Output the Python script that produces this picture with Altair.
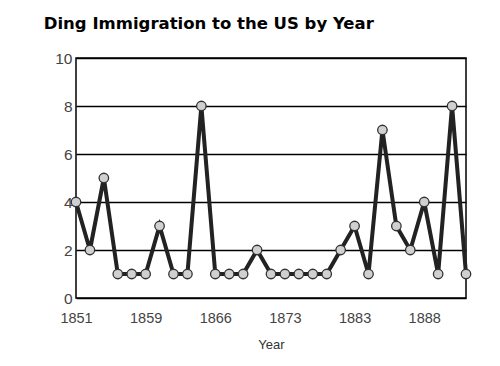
import altair as alt
import pandas as pd

years = [1851, 1852, 1853, 1855, 1857, 1859, 1860, 1861, 1863, 1865,
         1866, 1867, 1868, 1870, 1871, 1873, 1875, 1877, 1879, 1881,
         1883, 1884, 1885, 1886, 1887, 1888, 1889, 1890, 1892]
counts = [4, 2, 5, 1, 1, 1, 3, 1, 1, 8,
          1, 1, 1, 2, 1, 1, 1, 1, 1, 2,
          3, 1, 7, 3, 2, 4, 1, 8, 1]
tick_years = [1851, 1859, 1866, 1873, 1883, 1888]

df = pd.DataFrame({"Year": years, "Count": counts})

x = alt.X("Year:O", title="Year",
          scale=alt.Scale(type="point", padding=0),
          axis=alt.Axis(values=tick_years, labelAngle=0, ticks=False, domain=False,
                        labelFont="Liberation Sans", labelFontSize=14.5, labelColor="#444",
                        labelPadding=13, titleFont="Liberation Sans", titleFontSize=13,
                        titleFontWeight="normal", titleColor="#333", titlePadding=14))
y = alt.Y("Count:Q", title=None,
          scale=alt.Scale(domain=[0, 10], nice=False),
          axis=alt.Axis(values=[0, 2, 4, 6, 8, 10], grid=True, gridColor="#000",
                        gridWidth=1.3, gridOpacity=1, ticks=False, domain=False,
                        labelFont="Liberation Sans", labelFontSize=15.5, labelColor="#444",
                        labelPadding=4))

line = alt.Chart(df).mark_line(color="#222", strokeWidth=4).encode(x=x, y=y)
pts = alt.Chart(df).mark_point(filled=True, fill="#d0d0d0", stroke="#333",
                               strokeWidth=1.3, size=90, opacity=1).encode(x=x, y=y)

chart = (line + pts).properties(
    width=390, height=240,
    title=alt.Title("Ding Immigration to the US by Year", anchor="start",
                    font="DejaVu Sans", fontSize=16.5, fontWeight="bold",
                    color="#000", dx=-11, offset=19),
    autosize=alt.AutoSizeParams(type="none"),
    padding={"left": 68, "top": 50, "right": 20, "bottom": 62},
).configure_view(stroke="#000", strokeWidth=1.5)

chart.save("out.html", embed_options={"renderer": "svg", "actions": False})
